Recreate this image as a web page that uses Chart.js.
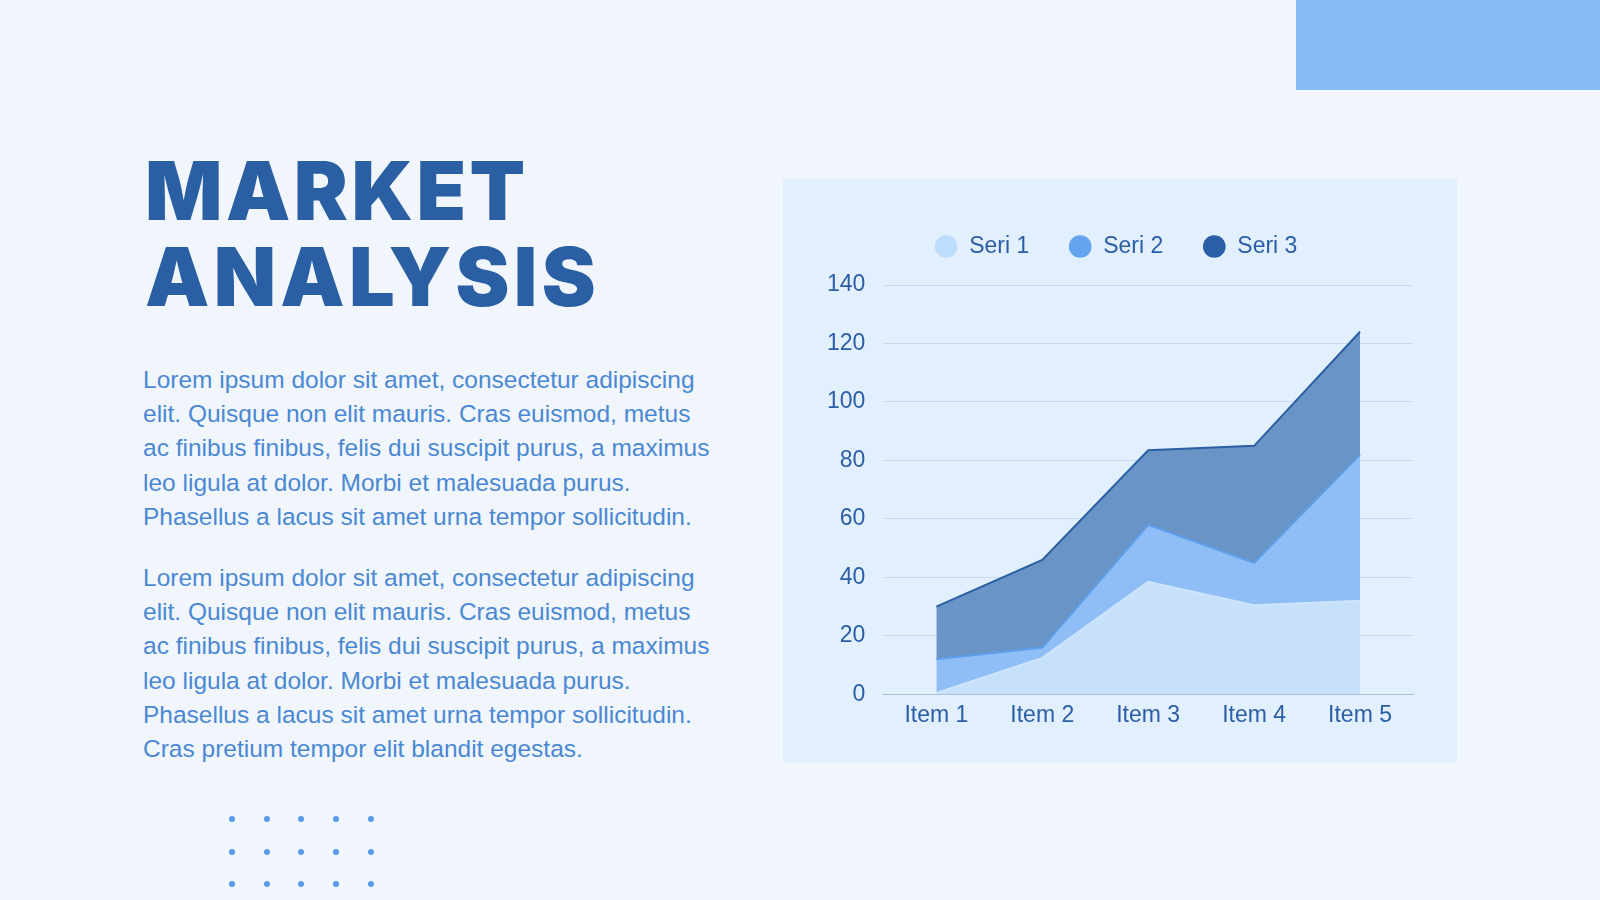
<!DOCTYPE html>
<html>
<head>
<meta charset="utf-8">
<script src="https://cdn.jsdelivr.net/npm/chart.js@4/dist/chart.umd.min.js"></script>
<style>
  html, body { margin: 0; padding: 0; }
  body { width: 1600px; height: 900px; background: #f0f6fb; position: relative; overflow: hidden; font-family: "Liberation Sans", Arial, sans-serif; }
  .corner { position: absolute; left: 1296px; top: 0; width: 304px; height: 90px; background: #86baf7; }
  .title { position: absolute; left: 145px; top: 148px; font-family: Inter, "Noto Sans", sans-serif; font-weight: 900; font-size: 81px; line-height: 86px; color: #2a5fa3; letter-spacing: 3.5px; }
  .title .l2 { letter-spacing: 4.3px; }
  .para { position: absolute; left: 143px; width: 600px; font-size: 24.5px; line-height: 34.2px; color: #4b88d3; white-space: nowrap; }
  .panel { position: absolute; left: 783px; top: 179px; width: 674px; height: 583px; background: #e2effd; }
  .dots { position: absolute; left: 229px; top: 816px; }
  .dots span { position: absolute; width: 6px; height: 6px; border-radius: 50%; background: #5b9be8; }
</style>
</head>
<body>
<div class="corner"></div>
<div class="title">MARKET<br><span class="l2">ANALYSIS</span></div>
<div class="para" style="top:363px">Lorem ipsum dolor sit amet, consectetur adipiscing<br>elit. Quisque non elit mauris. Cras euismod, metus<br>ac finibus finibus, felis dui suscipit purus, a maximus<br>leo ligula at dolor. Morbi et malesuada purus.<br>Phasellus a lacus sit amet urna tempor sollicitudin.</div>
<div class="para" style="top:561px">Lorem ipsum dolor sit amet, consectetur adipiscing<br>elit. Quisque non elit mauris. Cras euismod, metus<br>ac finibus finibus, felis dui suscipit purus, a maximus<br>leo ligula at dolor. Morbi et malesuada purus.<br>Phasellus a lacus sit amet urna tempor sollicitudin.<br>Cras pretium tempor elit blandit egestas.</div>
<div class="dots" id="dots"></div>
<div class="panel"><canvas id="market-chart"></canvas></div>
<script>
// chart data
const items = ['Item 1', 'Item 2', 'Item 3', 'Item 4', 'Item 5'];
const seri1 = [0.5, 12.5, 38.5, 30.5, 32];
const seri2 = [11.5, 3.5, 19.5, 14.5, 50];
const seri3 = [18, 30, 25.5, 40, 42];
const seriNames = ['Seri 1', 'Seri 2', 'Seri 3'];

// decorative dot grid, 5 x 3
const dots = document.getElementById('dots');
for (let r = 0; r < 3; r++) {
    for (let c = 0; c < 5; c++) {
        const d = document.createElement('span');
        d.style.left = (c * 34.7) + 'px';
        d.style.top = (r * 32.7) + 'px';
        dots.appendChild(d);
    }
}

const tickColor = '#2b5ea7';
const solid = ['#bedcfb', '#64a3ee', '#2a5fa5'];   // legend colours
const fills = ['#c7e1fb', '#8fbdf5', '#6a93c6'];   // area colours
const lines = ['#cde5fc', '#5d9eea', '#2a5fa3'];
const font23 = { family: 'Liberation Sans', size: 23 };

// push the plot a bit further below the legend, and nudge the legend right
const legendGap = {
    id: 'legendGap',
    beforeInit: function(chart) {
        const fit = chart.legend.fit;
        chart.legend.fit = function() {
            fit.call(this);
            this.height += 17;
        };
    },
    afterLayout: function(chart) {
        chart.legend.left += 5;
        chart.legend.right += 5;
    }
};

const ctx = document.getElementById('market-chart').getContext('2d');
const chart = new Chart(ctx, {
    type: 'line',
    data: {
        labels: items,
        datasets: [seri1, seri2, seri3].map(function(vals, i) {
            return {
                label: seriNames[i],
                data: vals,
                backgroundColor: fills[i],
                borderColor: lines[i],
                borderWidth: 2,
                pointRadius: 0,
                tension: 0,
                fill: i === 0 ? 'origin' : '-1'
            };
        })
    },
    plugins: [legendGap],
    options: {
        responsive: true,
        maintainAspectRatio: false,
        animation: false,
        layout: { padding: { top: 16.5, right: 44, bottom: 34, left: 26 } },
        plugins: {
            tooltip: { enabled: false },
            legend: {
                position: 'top',
                labels: {
                    usePointStyle: true,
                    pointStyle: 'circle',
                    boxHeight: 16,
                    padding: 39.5,
                    color: tickColor,
                    font: font23,
                    generateLabels: function(chart) {
                        const out = Chart.defaults.plugins.legend.labels.generateLabels(chart);
                        out.forEach(function(it, i) {
                            it.fillStyle = solid[i];
                            it.strokeStyle = solid[i];
                            it.lineWidth = 0;
                        });
                        return out;
                    }
                }
            }
        },
        scales: {
            x: {
                offset: true,
                grid: { display: false },
                border: { color: '#a9c0d8', width: 1 },
                ticks: { color: tickColor, font: font23, padding: -1 }
            },
            y: {
                stacked: true,
                min: 0,
                max: 140,
                grid: { color: '#c8d9ec', drawTicks: false },
                border: { display: false },
                ticks: { stepSize: 20, color: tickColor, font: font23, padding: 18 }
            }
        }
    }
});
</script>
</body>
</html>
